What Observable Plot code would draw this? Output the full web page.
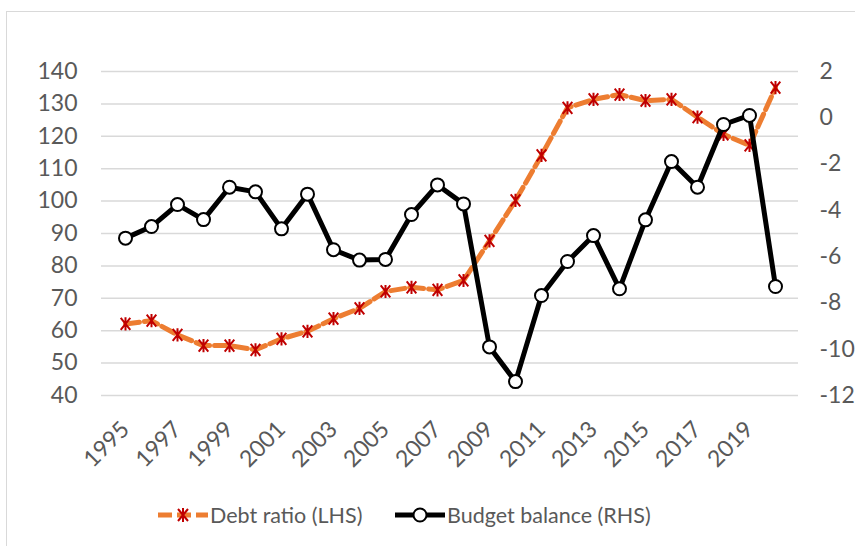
<!DOCTYPE html>
<html><head><meta charset="utf-8">
<script src="https://cdn.jsdelivr.net/npm/d3@7"></script>
<script src="https://cdn.jsdelivr.net/npm/@observablehq/plot@0.6"></script>
<style>
html,body{margin:0;padding:0;background:#fff;}
#wrap{position:relative;width:855px;height:546px;overflow:hidden;font-family:Lato,"Open Sans",sans-serif;}
#frame{position:absolute;left:6px;top:11px;width:1000px;height:1000px;border:1.5px solid #D9D9D9;box-sizing:border-box;}
#chart{position:absolute;left:0;top:0;}
.leg{position:absolute;top:503px;font-size:21.5px;color:#595959;white-space:nowrap;line-height:24px;}
</style></head>
<body><div id="wrap"><div id="frame"></div><div id="chart"></div>
<div class="leg" style="left:156px"><svg width="54" height="24" style="vertical-align:top"><line x1="2" x2="52" y1="12" y2="12" stroke="#ED7D31" stroke-width="5" stroke-dasharray="14,5"/><path d="M-5,-6L5,6M5,-6L-5,6M0,-7L0,7" transform="translate(27,12)" stroke="#C00000" stroke-width="2"/></svg><span>Debt ratio (LHS)</span></div>
<div class="leg" style="left:393px"><svg width="54" height="24" style="vertical-align:top"><line x1="2" x2="52" y1="12" y2="12" stroke="#000" stroke-width="5"/><circle cx="27" cy="12" r="6.5" fill="#fff" stroke="#000" stroke-width="2"/></svg><span>Budget balance (RHS)</span></div>
</div>
<script>
const years = d3.range(1995, 2021);
const debtRatio = [62.1, 63.1, 58.7, 55.4, 55.4, 54.1, 57.5, 59.8, 63.7, 66.9, 72.1, 73.4, 72.6, 75.5, 87.7, 100.2, 114.1, 128.8, 131.4, 132.9, 131.0, 131.4, 125.9, 120.6, 117.2, 135.0];
const budgetBalance = [-5.2, -4.7, -3.75, -4.4, -3.0, -3.2, -4.8, -3.3, -5.7, -6.15, -6.12, -4.18, -2.9, -3.72, -9.9, -11.4, -7.68, -6.21, -5.09, -7.39, -4.41, -1.89, -3.0, -0.29, 0.1, -7.29];
const lhsTicks = [40, 50, 60, 70, 80, 90, 100, 110, 120, 130, 140];
const rhsTicks = [-12, -10, -8, -6, -4, -2, 0, 2];
const xTickYears = d3.range(1995, 2020, 2);

const toL = v => 40 + (v + 12) * (100 / 14);
const fromL = v => (v - 40) * 14 / 100 - 12;
const debt = years.map((y, i) => ({year: y, v: debtRatio[i]}));
const bal = years.map((y, i) => ({year: y, v: toL(budgetBalance[i])}));

const star = {draw(ctx, size) {
  const r = Math.sqrt(size / Math.PI);
  ctx.moveTo(-r * 0.8, -r); ctx.lineTo(r * 0.8, r);
  ctx.moveTo(r * 0.8, -r); ctx.lineTo(-r * 0.8, r);
  ctx.moveTo(0, -r * 1.1); ctx.lineTo(0, r * 1.1);
}};

const plot = Plot.plot({
  width: 855, height: 490,
  marginLeft: 101, marginRight: 57, marginTop: 71, marginBottom: 95,
  style: {fontFamily: "Lato, 'Open Sans', sans-serif", fontSize: "23px", color: "#595959", background: "transparent", overflow: "visible"},
  x: {type: "point", domain: years, padding: 0.5},
  y: {domain: [40, 140]},
  marks: [
    Plot.ruleY(lhsTicks, {stroke: "#D9D9D9", strokeWidth: 1.5}),
    Plot.axisY({ticks: lhsTicks, tickSize: 0, tickPadding: 24, label: null, fill: "#595959"}),
    Plot.axisY({anchor: "right", ticks: rhsTicks.map(toL), tickFormat: d => String(Math.round(fromL(d))), tickSize: 0, tickPadding: 21, label: null, fill: "#595959", textAnchor: "start"}),
    Plot.axisX({ticks: xTickYears, tickFormat: d => String(d), tickRotate: -45, tickSize: 0, tickPadding: 30, label: null, fill: "#595959"}),
    Plot.line(debt, {x: "year", y: "v", stroke: "#ED7D31", strokeWidth: 5, strokeDasharray: "14,5", curve: "linear"}),
    Plot.dot(debt, {x: "year", y: "v", symbol: star, r: 6, stroke: "#C00000", strokeWidth: 2, fill: "none"}),
    Plot.line(bal, {x: "year", y: "v", stroke: "#000", strokeWidth: 5}),
    Plot.dot(bal, {x: "year", y: "v", r: 6.5, fill: "#fff", stroke: "#000", strokeWidth: 2})
  ]
});
document.getElementById("chart").appendChild(plot);
</script></body></html>
